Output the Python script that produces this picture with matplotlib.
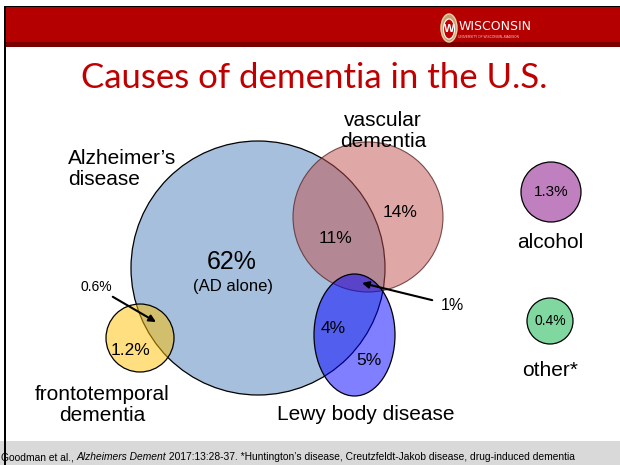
import matplotlib
matplotlib.use('Agg')
import matplotlib.pyplot as plt
from matplotlib.patches import Circle, Ellipse, Rectangle

plt.rcParams['font.family'] = ['Liberation Sans', 'DejaVu Sans']

# groups: label, share text, colour
groups = ['Alzheimer\u2019s\ndisease', 'vascular\ndementia', 'Lewy body disease',
          'frontotemporal\ndementia', 'alcohol', 'other*']
region_labels = ['62%', '11%', '14%', '4%', '5%', '1.2%', '0.6%', '1%', '1.3%', '0.4%']
title = 'Causes of dementia in the U.S.'
source = ['Goodman et al., ', 'Alzheimers Dement',
          ' 2017:13:28-37. *Huntington\u2019s disease, Creutzfeldt-Jakob disease, drug-induced dementia']

fig = plt.figure(figsize=(6.2, 4.65), dpi=100)
ax = fig.add_axes([0, 0, 1, 1])
ax.set_xlim(0, 620)
ax.set_ylim(465, 0)
ax.set_aspect('equal')
ax.axis('off')

# slide frame
ax.add_patch(Rectangle((5, 7), 615, 38, color='#b50000', lw=0))
ax.add_patch(Rectangle((5, 42), 615, 5, color='#7a0000', lw=0))
ax.add_patch(Rectangle((5, 6), 615, 1.5, color='black', lw=0))
ax.add_patch(Rectangle((0, 441), 620, 24, color='#d9d9d9', lw=0))
ax.add_patch(Rectangle((4, 6), 2, 459, color='black', lw=0, zorder=5))

# logo
ax.add_patch(Ellipse((449, 28), 16, 28, facecolor='#c8a070', edgecolor='#e8d0a8', lw=1))
ax.add_patch(Ellipse((449, 29), 11, 20, facecolor='#c00000', edgecolor='white', lw=0.8))
ax.text(449, 29.5, 'W', color='white', fontsize=8, ha='center', va='center', fontweight='bold')
ax.text(459, 27, 'WISCONSIN', color='white', fontsize=9, ha='left', va='center',
        family=['Liberation Sans Narrow', 'DejaVu Sans'])
ax.text(488, 37.5, 'UNIVERSITY OF WISCONSIN\u2013MADISON', color='#f0d0d0', fontsize=2.3,
        ha='center', va='center')

ax.text(314, 78, title, color='#c00000', fontsize=25, ha='center', va='center',
        family=['Lato', 'DejaVu Sans'])

# diagrams
ax.add_patch(Circle((258, 268), 127, facecolor='#4f81bd', alpha=0.5, lw=0))
ax.add_patch(Circle((258, 268), 127, facecolor='none', edgecolor='black', lw=0.9))
ax.add_patch(Circle((368, 217), 75, facecolor='#c0504d', alpha=0.5, lw=0))
ax.add_patch(Circle((368, 217), 75, facecolor='none', edgecolor='#5a2a2a', lw=0.8, alpha=0.8))
ax.add_patch(Ellipse((354.5, 335), 81, 122, facecolor='#0000ff', alpha=0.5, lw=0))
ax.add_patch(Ellipse((354.5, 335), 81, 122, facecolor='none', edgecolor='black', lw=0.9))
ax.add_patch(Circle((140, 338), 34, facecolor='#ffc000', alpha=0.5, lw=0))
ax.add_patch(Circle((140, 338), 34, facecolor='none', edgecolor='black', lw=0.9))
ax.add_patch(Circle((551, 192), 30, facecolor='#c080c0', edgecolor='black', lw=0.9))
ax.add_patch(Circle((550, 321), 23, facecolor='#80d8a0', edgecolor='black', lw=0.9))

fs = 15
ax.text(68, 169, groups[0], fontsize=fs, ha='left', va='center', linespacing=1.1)
ax.text(383, 131, groups[1], fontsize=fs, ha='center', va='center', linespacing=1.1)
ax.text(366, 414, groups[2], fontsize=fs, ha='center', va='center')
ax.text(102, 405, groups[3], fontsize=fs, ha='center', va='center', linespacing=1.1)
ax.text(550, 242, groups[4], fontsize=fs, ha='center', va='center')
ax.text(550, 370, groups[5], fontsize=fs, ha='center', va='center')

ax.text(232, 262, region_labels[0], fontsize=18, ha='center', va='center')
ax.text(233, 286, '(AD alone)', fontsize=12, ha='center', va='center')
ax.text(335, 238, region_labels[1], fontsize=12.5, ha='center', va='center')
ax.text(400, 212, region_labels[2], fontsize=12.5, ha='center', va='center')
ax.text(333, 328, region_labels[3], fontsize=12.5, ha='center', va='center')
ax.text(369, 360, region_labels[4], fontsize=12.5, ha='center', va='center')
ax.text(130, 350, region_labels[5], fontsize=12.5, ha='center', va='center')
ax.text(551, 192, region_labels[8], fontsize=11, ha='center', va='center')
ax.text(550, 321, region_labels[9], fontsize=10, ha='center', va='center')

ax.annotate(region_labels[6], xy=(156, 322), xytext=(96, 287), fontsize=10,
            ha='center', va='center',
            arrowprops=dict(arrowstyle='-|>', color='black', lw=1.5, shrinkA=0, shrinkB=0,
                            mutation_scale=10))
ax.annotate(region_labels[7], xy=(362, 283), xytext=(452, 305), fontsize=11.5,
            ha='center', va='center',
            arrowprops=dict(arrowstyle='-|>', color='black', lw=1.5, shrinkA=4, shrinkB=0,
                            mutation_scale=10))

# footer with italic journal name
fig.canvas.draw()
r = fig.canvas.get_renderer()
x = 1
for part, style in zip(source, ['normal', 'italic', 'normal']):
    t = ax.text(x, 457, part, fontsize=7.4, style=style, ha='left', va='center')
    bb = t.get_window_extent(renderer=r)
    x += bb.width

fig.savefig('out.png', dpi=100)
